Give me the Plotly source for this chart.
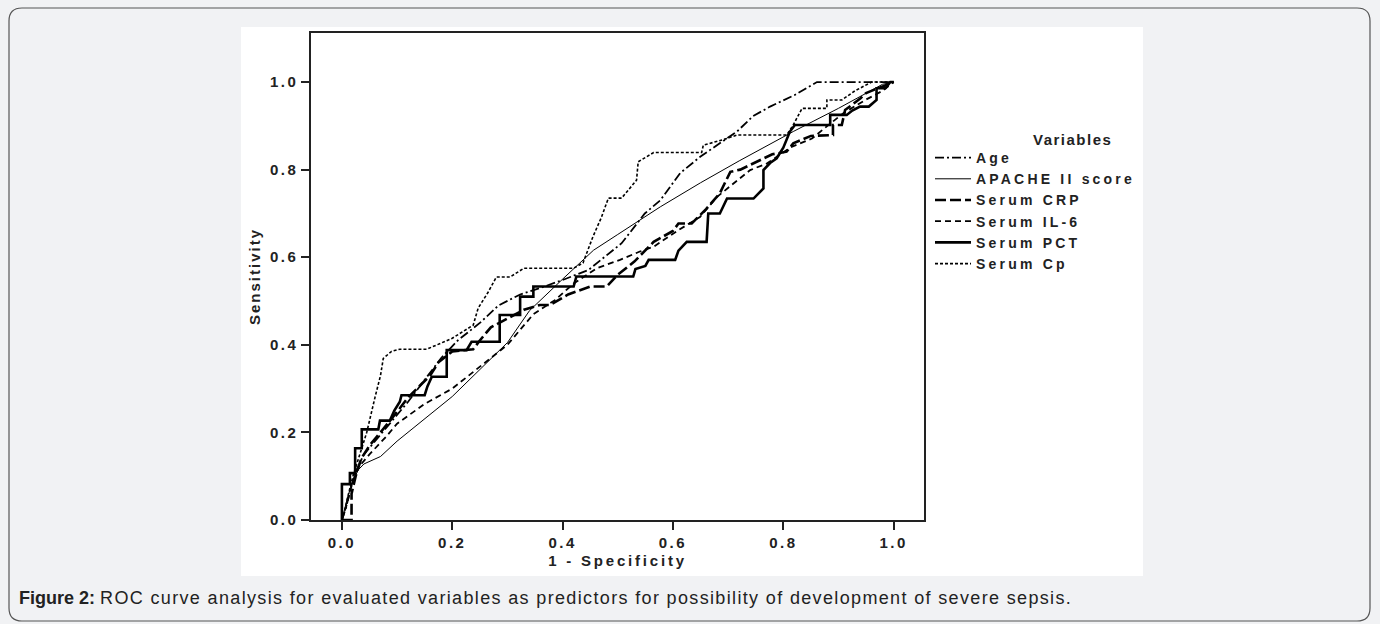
import plotly.graph_objects as go

# ---------------- data ----------------
age_fpr = [0, 0.008, 0.015, 0.025, 0.04, 0.06, 0.08, 0.10, 0.12, 0.15, 0.18, 0.21, 0.25, 0.284, 0.323,
           0.36, 0.40, 0.447, 0.507, 0.549, 0.577, 0.613, 0.65, 0.716, 0.745, 0.776, 0.82, 0.861, 0.94, 1.0]
age_tpr = [0, 0.03, 0.07, 0.11, 0.15, 0.18, 0.21, 0.24, 0.27, 0.32, 0.37, 0.41, 0.45, 0.49, 0.515,
           0.53, 0.548, 0.571, 0.632, 0.70, 0.73, 0.792, 0.83, 0.887, 0.922, 0.944, 0.97, 1.0, 1.0, 1.0]

apache_fpr = [0, 0.01, 0.02, 0.03, 0.04, 0.07, 0.10, 0.20, 0.30, 0.34, 0.40, 0.456, 0.50, 0.577,
              0.65, 0.72, 0.818, 0.90, 0.98, 1.0]
apache_tpr = [0, 0.05, 0.09, 0.115, 0.128, 0.145, 0.18, 0.282, 0.405, 0.478, 0.55, 0.616, 0.652, 0.715,
              0.77, 0.82, 0.887, 0.94, 0.995, 1.0]

crp_fpr = [0, 0.0175, 0.0175, 0.025, 0.035, 0.05, 0.07, 0.09, 0.105, 0.12, 0.14, 0.16, 0.175, 0.20,
           0.238, 0.25, 0.27, 0.30, 0.33, 0.359, 0.377, 0.41, 0.45, 0.48, 0.50, 0.53, 0.565, 0.60,
           0.61, 0.634, 0.66, 0.685, 0.704, 0.722, 0.746, 0.78, 0.806, 0.818, 0.85, 0.89, 0.89,
           0.906, 0.912, 0.94, 0.95, 0.98, 1.0]
crp_tpr = [0, 0, 0.06, 0.10, 0.14, 0.17, 0.20, 0.23, 0.255, 0.28, 0.305, 0.33, 0.36, 0.385,
           0.39, 0.41, 0.44, 0.46, 0.48, 0.491, 0.491, 0.515, 0.533, 0.533, 0.56, 0.59, 0.635, 0.66,
           0.677, 0.677, 0.71, 0.746, 0.795, 0.80, 0.814, 0.835, 0.841, 0.86, 0.877, 0.879, 0.902,
           0.902, 0.936, 0.963, 0.975, 0.99, 1.0]

il6_fpr = [0, 0.01, 0.02, 0.03, 0.05, 0.08, 0.10, 0.15, 0.20, 0.25, 0.30, 0.347, 0.386, 0.42, 0.462,
           0.504, 0.54, 0.565, 0.61, 0.649, 0.68, 0.74, 0.77, 0.815, 0.852, 0.88, 0.91, 0.95, 0.98, 1.0]
il6_tpr = [0, 0.04, 0.09, 0.12, 0.15, 0.19, 0.22, 0.265, 0.30, 0.35, 0.40, 0.47, 0.502, 0.54, 0.575,
           0.594, 0.613, 0.624, 0.662, 0.692, 0.738, 0.799, 0.814, 0.852, 0.871, 0.90, 0.93, 0.96, 0.98, 1.0]

pct_fpr = [0, 0, 0.0145, 0.0145, 0.024, 0.024, 0.036, 0.036, 0.066, 0.069, 0.087, 0.095, 0.105, 0.108,
           0.15, 0.155, 0.163, 0.19, 0.19, 0.226, 0.235, 0.286, 0.286, 0.323, 0.323, 0.347, 0.347,
           0.42, 0.425, 0.528, 0.532, 0.55, 0.556, 0.604, 0.61, 0.625, 0.661, 0.664, 0.685, 0.692,
           0.698, 0.746, 0.755, 0.764, 0.764, 0.776, 0.788, 0.80, 0.812, 0.821, 0.885, 0.885, 0.915,
           0.925, 0.939, 0.955, 0.969, 0.969, 0.985, 0.994, 1.0]
pct_tpr = [0, 0.082, 0.082, 0.107, 0.107, 0.164, 0.164, 0.207, 0.207, 0.227, 0.227, 0.25, 0.27, 0.285,
           0.285, 0.305, 0.327, 0.327, 0.388, 0.388, 0.407, 0.407, 0.468, 0.468, 0.51, 0.51, 0.533,
           0.533, 0.556, 0.556, 0.573, 0.58, 0.594, 0.594, 0.615, 0.635, 0.635, 0.70, 0.70, 0.72,
           0.734, 0.734, 0.745, 0.757, 0.799, 0.815, 0.826, 0.85, 0.887, 0.902, 0.902, 0.925, 0.925,
           0.935, 0.944, 0.944, 0.959, 0.986, 0.986, 1.0, 1.0]

cp_fpr = [0, 0.005, 0.01, 0.02, 0.03, 0.045, 0.06, 0.07, 0.075, 0.09, 0.105, 0.154, 0.20, 0.238, 0.247,
          0.265, 0.28, 0.305, 0.33, 0.42, 0.437, 0.455, 0.47, 0.483, 0.507, 0.534, 0.537, 0.565, 0.652,
          0.655, 0.69, 0.716, 0.806, 0.818, 0.834, 0.879, 0.879, 0.906, 0.93, 0.96, 1.0]
cp_tpr = [0, 0.02, 0.05, 0.10, 0.14, 0.20, 0.28, 0.33, 0.369, 0.385, 0.39, 0.39, 0.415, 0.445, 0.484,
          0.52, 0.555, 0.555, 0.575, 0.575, 0.587, 0.647, 0.69, 0.735, 0.735, 0.776, 0.818, 0.839, 0.839,
          0.856, 0.868, 0.879, 0.879, 0.902, 0.94, 0.94, 0.959, 0.959, 0.98, 1.0, 1.0]

series_names = ["Age", "APACHE II score", "Serum CRP", "Serum IL-6", "Serum PCT", "Serum Cp"]
legend_title = "Variables"
tick_vals = [0.0, 0.2, 0.4, 0.6, 0.8, 1.0]
tick_labels = ["0.0", "0.2", "0.4", "0.6", "0.8", "1.0"]
caption_bold = "Figure 2:"
caption_text = "ROC curve analysis for evaluated variables as predictors for possibility of development of severe sepsis."

# ---------------- styling ----------------
FONT = "Liberation Sans, Arial, sans-serif"
W_FIG, H_FIG = 1380, 624
L, R, T, B = 311, 924, 33, 520          # plot-area pixel box
PW, PH = R - L, B - T


def ls(txt, sp=2.5):
    return f'<span style="letter-spacing:{sp}px">{txt}</span>'


def fx(px):
    return (px - L) / PW


def fy(py):
    return (B - py) / PH


styles = [
    dict(width=1.8, dash="9px,3px,2px,3px"),   # Age
    dict(width=1.0, dash="solid"),             # APACHE
    dict(width=2.6, dash="11px,4px"),          # CRP
    dict(width=1.8, dash="6px,4px"),           # IL-6
    dict(width=2.6, dash="solid"),             # PCT
    dict(width=1.6, dash="3px,2px"),           # Cp
]
xs = [age_fpr, apache_fpr, crp_fpr, il6_fpr, pct_fpr, cp_fpr]
ys = [age_tpr, apache_tpr, crp_tpr, il6_tpr, pct_tpr, cp_tpr]

fig = go.Figure()
for name, x, y, st in zip(series_names, xs, ys, styles):
    fig.add_trace(go.Scatter(
        x=x, y=y, mode="lines", name=ls(name, 3.2),
        line=dict(color="black", width=st["width"], dash=st["dash"], shape="linear"),
        hoverinfo="skip",
    ))

axis_common = dict(
    showgrid=False, zeroline=False, showline=True, linecolor="#222", linewidth=1.5,
    mirror=True, ticks="outside", ticklen=8, tickwidth=1.5, tickcolor="#222",
    tickfont=dict(family=FONT, size=15, color="#222", weight="bold"),
    tickvals=tick_vals, ticktext=[ls(t) for t in tick_labels],
)

fig.update_layout(
    width=W_FIG, height=H_FIG,
    margin=dict(l=L, r=W_FIG - R, t=T, b=H_FIG - B, pad=0),
    paper_bgcolor="#f1f2f4", plot_bgcolor="white",
    font=dict(family=FONT, color="#222"),
    xaxis=dict(range=[-0.056, 1.055], title=dict(text=ls("1 - Specificity", 2.8), standoff=6,
               font=dict(family=FONT, size=15, weight="bold", color="#222")), **axis_common),
    yaxis=dict(range=[0, 1.112], title=dict(text=ls("Sensitivity", 2.0), standoff=6,
               font=dict(family=FONT, size=15, weight="bold", color="#222")), **axis_common),
    legend=dict(
        x=fx(930), y=fy(142), xanchor="left", yanchor="top",
        bgcolor="rgba(0,0,0,0)", borderwidth=0, tracegroupgap=0, itemwidth=36,
        font=dict(family=FONT, size=14, color="#222", weight="bold"),
    ),
    showlegend=True,
)

# legend heading
fig.add_annotation(xref="paper", yref="paper", x=fx(1072), y=fy(139), xanchor="center", yanchor="middle",
                   showarrow=False, text=ls(legend_title, 1.5),
                   font=dict(family=FONT, size=15, color="#222", weight="bold"))

# white chart panel
fig.add_shape(type="rect", xref="paper", yref="paper", layer="below",
              x0=fx(241), x1=fx(1143), y0=fy(576), y1=fy(27),
              fillcolor="white", line=dict(width=0))

# rounded outer frame
x0p, x1p, y0p, y1p, rr = 9, 1370, 8, 621, 13
path = (f"M {fx(x0p + rr)},{fy(y0p)} L {fx(x1p - rr)},{fy(y0p)} "
        f"Q {fx(x1p)},{fy(y0p)} {fx(x1p)},{fy(y0p + rr)} "
        f"L {fx(x1p)},{fy(y1p - rr)} Q {fx(x1p)},{fy(y1p)} {fx(x1p - rr)},{fy(y1p)} "
        f"L {fx(x0p + rr)},{fy(y1p)} Q {fx(x0p)},{fy(y1p)} {fx(x0p)},{fy(y1p - rr)} "
        f"L {fx(x0p)},{fy(y0p + rr)} Q {fx(x0p)},{fy(y0p)} {fx(x0p + rr)},{fy(y0p)} Z")
fig.add_shape(type="path", xref="paper", yref="paper", layer="below", path=path,
              line=dict(color="#555", width=1.2), fillcolor="rgba(0,0,0,0)")

fig.add_annotation(xref="paper", yref="paper", x=fx(17), y=fy(598), xanchor="left", yanchor="middle",
                   showarrow=False, align="left",
                   text=f"<b>{caption_bold}</b> {ls(caption_text, 1.35)}",
                   font=dict(family=FONT, size=18, color="#222"))

fig.write_html("out.html")
